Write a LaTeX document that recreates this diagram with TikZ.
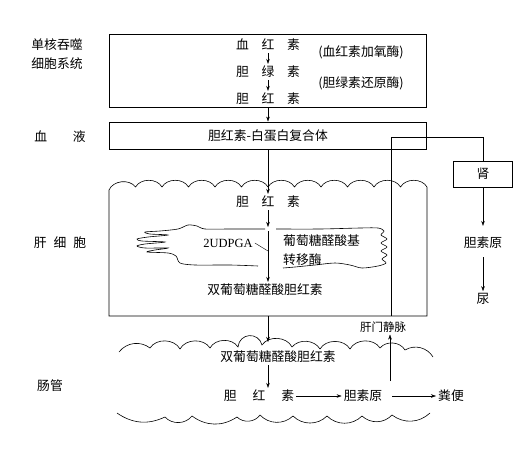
\documentclass[tikz,border=0pt]{standalone}
\usepackage{fontspec}
\newfontfamily\cjk{Noto Sans CJK SC}
\newfontfamily\serifen{Liberation Serif}
\usetikzlibrary{arrows.meta,calc,positioning}

\begin{document}
\begin{tikzpicture}[>={Stealth[length=5pt,width=3.5pt]},x=1pt,y=-1pt,
    txt/.style={font=\cjk\fontsize{12.8}{19}\selectfont,inner sep=2pt},
    small/.style={font=\cjk\fontsize{11.5}{14}\selectfont,inner sep=2pt},
    box/.style={draw,line width=0.9pt}]
  \useasboundingbox (0,0) rectangle (532,452);
  % left side labels
  \node[txt,align=left] (lmono) at (57,54.5) {单核吞噬\\细胞系统};
  \node[txt] (lblood) at (60,137) {血\hspace{2em}液};
  \node[txt] (lliver) at (60,243) {肝\hspace{0.55em}细\hspace{0.55em}胞};
  \node[txt] (lgut) at (50,386) {肠管};

  % mononuclear phagocyte system
  \node[box,minimum width=317pt,minimum height=73pt] (mono) at (268,70.5) {};
  \node[txt] (hb) at (268,45) {血\quad 红\quad 素};
  \node[txt] (bv) at (268,72) {胆\quad 绿\quad 素};
  \node[txt] (br1) at (268,99) {胆\quad 红\quad 素};
  \node[txt] (ho) at (361,52) {(血红素加氧酶)};
  \node[txt] (bvr) at (361,83) {(胆绿素还原酶)};
  \draw[->] (hb) -- (bv);
  \draw[->] (bv) -- (br1);

  % blood
  \node[box,txt,minimum width=317pt,minimum height=27pt] (blood) at (268,135.5) {胆红素-白蛋白复合体};
  \draw[->] (mono) -- (blood);
  \node[box,txt,minimum width=59pt,minimum height=26pt] (kid) at (483,174) {肾};
  \coordinate (jn) at (391,137);
  \coordinate (lvb) at (391,316);
  \draw (jn) -| (kid);
  \draw (jn) -- (lvb);
  \node[txt] (ubg1) at (483,243) {胆素原};
  \node[txt] (urine) at (483,299) {尿};
  \draw[->,shorten >=9pt] (kid) -- (ubg1);
  \draw[->,shorten <=6pt] (ubg1) -- (urine);

  % liver cell
  \draw[semithick] (109,316) -- (109,190)
    \foreach \i in {1,...,12} { to[bend left=60] ({109+\i*26.5},187) }
    -- (427,316) -- cycle;
  \node[txt] (br2) at (268,202) {胆\quad 红\quad 素};
  \draw[->] (blood) -- (br2);
  \coordinate (erin) at (268,227);
  \coordinate (erout) at (268,231);
  \coordinate (join) at (268,251);
  \draw[->] (br2) -- (erin);
  \node[txt,font=\serifen\fontsize{12.5}{14}\selectfont] (udpga) at (228,243) {2UDPGA};
  \node[txt,align=left,anchor=west] (ugt) at (281,250.5) {葡萄糖醛酸基\\转移酶};
  \node[txt] (dg1) at (265,290) {双葡萄糖醛酸胆红素};
  \draw[->] (erout) -- (erout |- dg1.north);
  \draw (udpga.east) -- (join);
  % endoplasmic reticulum
  \draw[semithick] plot[smooth,tension=0.5] coordinates {(265,229) (230,229) (205,229)
    (197,226) (188,225) (178,229) (160,231) (145,232) (150,234) (168,235) (148,237)
    (137,239) (142,241) (165,242) (145,244) (137,246) (145,248) (168,248) (155,250)
    (147,252) (168,253) (176,256) (180,263) (195,265) (230,265) (258,266)};
  \draw[semithick] plot[smooth,tension=0.5] coordinates {(276,229) (320,229) (360,228)
    (378,228) (384,231) (381,235) (387,239) (381,243) (387,247) (381,251) (387,255)
    (382,259) (386,263) (378,266) (362,268) (350,265) (335,263) (315,265) (295,267)
    (283,268)};

  % intestine
  \draw[semithick] (119,352) to[bend left=45] (150,348) to[bend left=60] (180,349)
    to[bend left=60] (210,348) to[bend left=60] (238,347)
    to[bend left=80,looseness=1.5] (262,345) to[bend left=60] (292,347)
    to[bend left=55] (320,349) to[bend left=60] (350,349) to[bend left=60] (380,348)
    to[bend left=55] (405,350) to[bend left=45] (433,357);
  \draw[semithick] (117,413) to[bend right=30] (165,417) to[bend right=50] (192,416)
    to[bend right=35] (237,417) to[bend right=50] (260,415) to[bend right=45] (293,416)
    to[bend right=45] (327,416) to[bend right=45] (362,416) to[bend right=45] (392,415)
    to[bend right=40] (430,413);
  \node[txt] (dg2) at (278,357) {双葡萄糖醛酸胆红素};
  \node[txt] (br3) at (259,396) {胆\hspace{1.25em}红\hspace{1.25em}素};
  \node[txt] (ubg2) at (363,396) {胆素原};
  \node[txt] (feces) at (451,396) {粪便};
  \node[small] (pv) at (383,327) {肝门静脉};
  \coordinate (lvout) at (268,316);
  \coordinate (gutin) at (268,342);
  \coordinate (pvb) at (390,381);
  \draw[->] (lvout) -- (gutin);
  \draw[->] (gutin |- dg2.south) -- (gutin |- br3.north);
  \draw[->] (br3) -- (ubg2);
  \draw[->,shorten <=8pt] (ubg2) -- (feces);
  \draw[->] (pvb) -- (pvb |- pv.south);
\end{tikzpicture}
\end{document}
